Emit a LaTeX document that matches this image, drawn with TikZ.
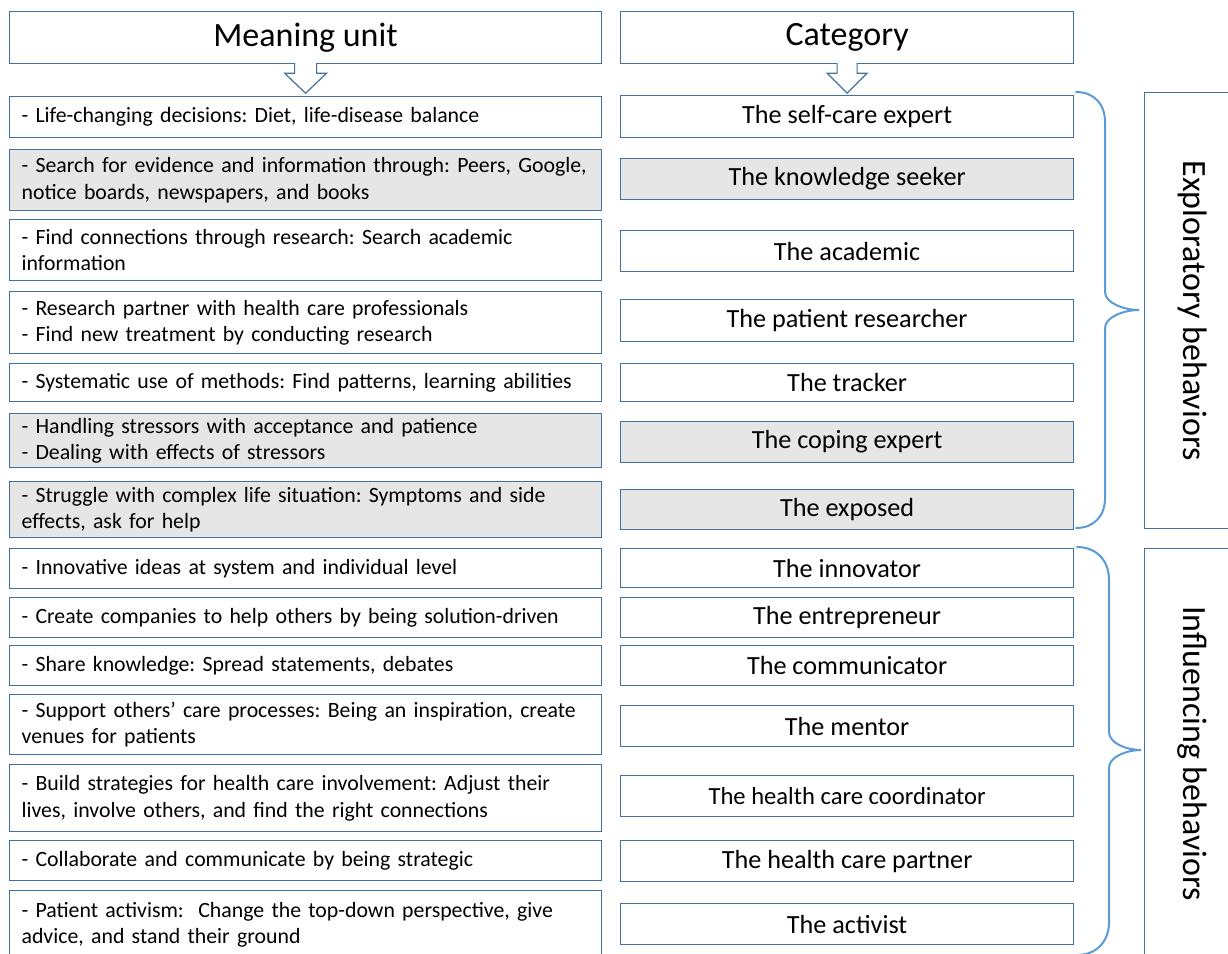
\documentclass[tikz,border=0pt]{standalone}
\usepackage{fontspec}
\setmainfont{Carlito}
\frenchspacing

\definecolor{boxblue}{RGB}{65,113,156}
\definecolor{braceblue}{RGB}{91,155,213}
\definecolor{shadegray}{RGB}{231,230,230}

\tikzset{every picture/.style={line width=1.2pt}}
\tikzset{
	headbox/.style={draw=boxblue, fill=white, anchor=north west, minimum height=52pt, inner sep=0pt, font=\fontsize{34}{40}\selectfont},
	unitbox/.style={draw=boxblue, fill=white, anchor=north west, text width=568pt, inner xsep=12pt, inner ysep=0pt, align=left, font=\fontsize{21.8}{26.5}\selectfont},
	catbox/.style={draw=boxblue, fill=white, anchor=north west, minimum width=453pt, inner sep=0pt, font=\fontsize{26.2}{30}\selectfont},
	groupbox/.style={draw=boxblue, fill=white, anchor=north west, minimum width=96pt, inner sep=0pt, font=\fontsize{34}{40}\selectfont},
	shaded/.style={fill=shadegray},
	blockarrow/.style={draw=boxblue, fill=white, line join=miter},
	curlybrace/.style={draw=braceblue, line width=2pt, line cap=round}
}

\begin{document}
\begin{tikzpicture}[x=1pt,y=1pt,yscale=-1,xscale=1]
	\clip (0,0) rectangle (1228,953);

	% Header Nodes
	\node[headbox, minimum width=592pt] (hunit) at (9,11) {Meaning unit};
	\node[headbox, minimum width=453pt] (hcat) at (620,11) {Category};

	% Meaning units
	\node[unitbox, minimum height=41pt] (m1) at (9,96) {- Life-changing decisions: Diet, life-disease balance};
	\node[unitbox, shaded, minimum height=61pt] (m2) at (9,149) {- Search for evidence and information through: Peers, Google,\\notice boards, newspapers, and books};
	\node[unitbox, minimum height=61pt] (m3) at (9,219) {- Find connections through research: Search academic\\information};
	\node[unitbox, minimum height=62pt] (m4) at (9,291) {- Research partner with health care professionals\\- Find new treatment by conducting research};
	\node[unitbox, minimum height=38pt] (m5) at (9,363) {- Systematic use of methods: Find patterns, learning abilities};
	\node[unitbox, shaded, minimum height=54pt] (m6) at (9,413) {- Handling stressors with acceptance and patience\\- Dealing with effects of stressors};
	\node[unitbox, shaded, minimum height=56pt] (m7) at (9,481) {- Struggle with complex life situation: Symptoms and side\\effects, ask for help};
	\node[unitbox, minimum height=40pt] (m8) at (9,548) {- Innovative ideas at system and individual level};
	\node[unitbox, minimum height=40pt] (m9) at (9,597) {- Create companies to help others by being solution-driven};
	\node[unitbox, minimum height=40pt] (m10) at (9,645) {- Share knowledge: Spread statements, debates};
	\node[unitbox, minimum height=60pt] (m11) at (9,694) {- Support others’ care processes: Being an inspiration, create\\venues for patients};
	\node[unitbox, minimum height=67pt] (m12) at (9,764) {- Build strategies for health care involvement: Adjust their\\lives, involve others, and find the right connections};
	\node[unitbox, minimum height=40pt] (m13) at (9,840) {- Collaborate and communicate by being strategic};
	\node[unitbox, minimum height=68pt] (m14) at (9,890) {- Patient activism:\ \ Change the top-down perspective, give\\advice, and stand their ground};

	% Categories
	\node[catbox, minimum height=42pt] (c1) at (620,95) {The self-care expert};
	\node[catbox, shaded, minimum height=41pt] (c2) at (620,158) {The knowledge seeker};
	\node[catbox, minimum height=41pt] (c3) at (620,230) {The academic};
	\node[catbox, minimum height=42pt] (c4) at (620,299) {The patient researcher};
	\node[catbox, minimum height=38pt] (c5) at (620,363) {The tracker};
	\node[catbox, shaded, minimum height=41pt] (c6) at (620,421) {The coping expert};
	\node[catbox, shaded, minimum height=40pt] (c7) at (620,489) {The exposed};
	\node[catbox, minimum height=39pt] (c8) at (620,548) {The innovator};
	\node[catbox, minimum height=40pt] (c9) at (620,597) {The entrepreneur};
	\node[catbox, minimum height=40pt] (c10) at (620,645) {The communicator};
	\node[catbox, minimum height=41pt] (c11) at (620,705) {The mentor};
	\node[catbox, minimum height=41pt, font=\fontsize{24.6}{30}\selectfont] (c12) at (620,775) {The health care coordinator};
	\node[catbox, minimum height=41pt] (c13) at (620,840) {The health care partner};
	\node[catbox, minimum height=41pt] (c14) at (620,903) {The activist};

	% Behavior groups
	\node[groupbox, minimum height=436pt] (gexpl) at (1144,92) {\rotatebox{-90}{Exploratory behaviors}};
	\node[groupbox, minimum height=410pt] (ginfl) at (1144,548) {\rotatebox{-90}{Influencing behaviors}};

	%Down Arrow
	\draw[blockarrow] ([xshift=-11pt,yshift=-1pt]hunit.south) -- ++(0,10) -- ++(-10,0) -- ++(21,20) -- ++(21,-20) -- ++(-10,0) -- ++(0,-10);
	%Down Arrow
	\draw[blockarrow] ([xshift=-10pt,yshift=-1pt]hcat.south) -- ++(0,10) -- ++(-10,0) -- ++(20,20) -- ++(20,-20) -- ++(-10,0) -- ++(0,-10);

	%Shape: Brace
	\draw[curlybrace] (1076,92) .. controls (1094,92) and (1105,104) .. (1105,122) -- (1105,292) .. controls (1105,303) and (1124,310) .. (1139,310) .. controls (1124,310) and (1105,317) .. (1105,328) -- (1105,498) .. controls (1105,516) and (1094,528) .. (1076,528);
	%Shape: Brace
	\draw[curlybrace] (1077,547) .. controls (1096,547) and (1109,560) .. (1109,580) -- (1109,732) .. controls (1109,743) and (1126,750) .. (1141,750) .. controls (1126,750) and (1109,757) .. (1109,768) -- (1109,922) .. controls (1109,942) and (1096,955) .. (1077,955);

\end{tikzpicture}
\end{document}
